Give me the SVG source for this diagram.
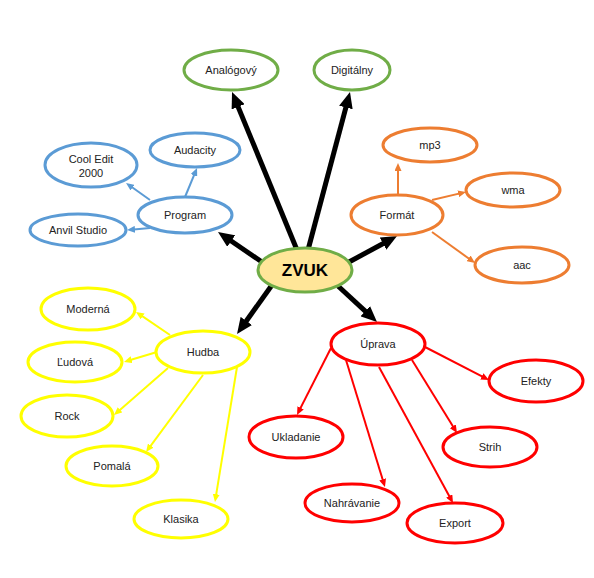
<svg xmlns="http://www.w3.org/2000/svg" width="594" height="578" viewBox="0 0 594 578">
<style>
  .n { fill: #ffffff; stroke-width: 3; }
  .g { stroke: #70AD47; }
  .b { stroke: #5B9BD5; }
  .o { stroke: #ED7D31; }
  .y { stroke: #FFFF00; }
  .r { stroke: #FF0000; }
  text { font-family: "Liberation Sans", Arial, sans-serif; font-size: 11px; fill: #222222; text-anchor: middle; }
  .big { stroke: #000000; stroke-width: 5; fill: none; marker-end: url(#mk); }
  .cb { stroke: #5B9BD5; stroke-width: 2; fill: none; marker-end: url(#mb); }
  .co { stroke: #ED7D31; stroke-width: 2; fill: none; marker-end: url(#mo); }
  .cy { stroke: #FFFF00; stroke-width: 2; fill: none; marker-end: url(#my); }
  .cr { stroke: #FF0000; stroke-width: 2; fill: none; marker-end: url(#mr); }
</style>
<defs>
  <marker id="mk" markerUnits="userSpaceOnUse" markerWidth="16" markerHeight="14" refX="4" refY="7" orient="auto"><path d="M0,0 L16,7 L0,14 z" fill="#000000"/></marker>
  <marker id="mb" markerUnits="userSpaceOnUse" markerWidth="8" markerHeight="7" refX="4" refY="3.5" orient="auto"><path d="M0,0 L8,3.5 L0,7 z" fill="#5B9BD5"/></marker>
  <marker id="mo" markerUnits="userSpaceOnUse" markerWidth="8" markerHeight="7" refX="4" refY="3.5" orient="auto"><path d="M0,0 L8,3.5 L0,7 z" fill="#ED7D31"/></marker>
  <marker id="my" markerUnits="userSpaceOnUse" markerWidth="8" markerHeight="7" refX="4" refY="3.5" orient="auto"><path d="M0,0 L8,3.5 L0,7 z" fill="#FFFF00"/></marker>
  <marker id="mr" markerUnits="userSpaceOnUse" markerWidth="8" markerHeight="7" refX="4" refY="3.5" orient="auto"><path d="M0,0 L8,3.5 L0,7 z" fill="#FF0000"/></marker>
</defs>
<rect width="594" height="578" fill="#ffffff"/>
<g id="connectors">
  <line class="big" x1="297" y1="250" x2="236.6" y2="103.1"/>
  <line class="big" x1="308" y1="250" x2="346.9" y2="103.6"/>
  <line class="big" x1="262" y1="262" x2="227.9" y2="238.8"/>
  <line class="big" x1="349" y1="262" x2="386.5" y2="241.7"/>
  <line class="big" x1="272" y1="285" x2="244" y2="324.2"/>
  <line class="big" x1="338" y1="286" x2="368.2" y2="313.9"/>
  <line class="cb" x1="185" y1="197" x2="195.5" y2="171.7"/>
  <line class="cb" x1="150" y1="200" x2="129.3" y2="185.3"/>
  <line class="cb" x1="150" y1="228" x2="131" y2="229.7"/>
  <line class="co" x1="398" y1="195" x2="398" y2="167"/>
  <line class="co" x1="432" y1="200" x2="462.1" y2="192.9"/>
  <line class="co" x1="432" y1="232" x2="471.8" y2="260.7"/>
  <line class="cy" x1="170" y1="335" x2="139.3" y2="314.2"/>
  <line class="cy" x1="157" y1="352" x2="127.8" y2="360.8"/>
  <line class="cy" x1="168" y1="368" x2="117" y2="412.4"/>
  <line class="cy" x1="203" y1="375" x2="148.4" y2="448.8"/>
  <line class="cy" x1="237" y1="367" x2="215.6" y2="498.1"/>
  <line class="cr" x1="425" y1="347" x2="485.4" y2="378.2"/>
  <line class="cr" x1="331" y1="348" x2="298.8" y2="411.4"/>
  <line class="cr" x1="346" y1="360" x2="383.8" y2="483.2"/>
  <line class="cr" x1="379" y1="367" x2="451.1" y2="499.5"/>
  <line class="cr" x1="412" y1="360" x2="454.9" y2="429.6"/>
</g>
<g id="zvuk"><ellipse cx="305" cy="270" rx="47" ry="22" fill="#FFE699" stroke="#70AD47" stroke-width="3"/><text x="305" y="276" style="font-size:17px;font-weight:bold;fill:#000">ZVUK</text></g>
<g id="analogovy"><ellipse class="n g" cx="231" cy="70" rx="47" ry="20"/><text x="231" y="74">Analógový</text></g>
<g id="digitalny"><ellipse class="n g" cx="352" cy="70" rx="38" ry="20"/><text x="352" y="74">Digitálny</text></g>
<g id="program"><ellipse class="n b" cx="185" cy="215" rx="47" ry="18"/><text x="185" y="219">Program</text></g>
<g id="audacity"><ellipse class="n b" cx="195" cy="150" rx="45" ry="17"/><text x="195" y="154">Audacity</text></g>
<g id="cooledit"><ellipse class="n b" cx="91" cy="165" rx="46" ry="22"/><text x="91" y="163">Cool Edit</text><text x="91" y="177">2000</text></g>
<g id="anvil"><ellipse class="n b" cx="78" cy="230" rx="48" ry="16"/><text x="78" y="234">Anvil Studio</text></g>
<g id="format"><ellipse class="n o" cx="397" cy="215" rx="46" ry="20"/><text x="397" y="219">Formát</text></g>
<g id="mp3"><ellipse class="n o" cx="430" cy="145" rx="47" ry="17"/><text x="430" y="149">mp3</text></g>
<g id="wma"><ellipse class="n o" cx="513" cy="190" rx="47" ry="17"/><text x="513" y="194">wma</text></g>
<g id="aac"><ellipse class="n o" cx="522" cy="265" rx="47" ry="18"/><text x="522" y="269">aac</text></g>
<g id="hudba"><ellipse class="n y" cx="203" cy="352" rx="47" ry="21"/><text x="203" y="356">Hudba</text></g>
<g id="moderna"><ellipse class="n y" cx="88" cy="309" rx="47" ry="21"/><text x="88" y="313">Moderná</text></g>
<g id="ludova"><ellipse class="n y" cx="75" cy="362" rx="47" ry="20"/><text x="75" y="366">Ľudová</text></g>
<g id="rock"><ellipse class="n y" cx="67" cy="416" rx="46" ry="21"/><text x="67" y="420">Rock</text></g>
<g id="pomala"><ellipse class="n y" cx="112" cy="466" rx="46" ry="20"/><text x="112" y="470">Pomalá</text></g>
<g id="klasika"><ellipse class="n y" cx="181" cy="519" rx="47" ry="19"/><text x="181" y="523">Klasika</text></g>
<g id="uprava"><ellipse class="n r" cx="378" cy="344" rx="47" ry="21"/><text x="378" y="348">Úprava</text></g>
<g id="efekty"><ellipse class="n r" cx="536" cy="381" rx="47" ry="21"/><text x="536" y="385">Efekty</text></g>
<g id="ukladanie"><ellipse class="n r" cx="296" cy="437" rx="47" ry="21"/><text x="296" y="441">Ukladanie</text></g>
<g id="strih"><ellipse class="n r" cx="490" cy="447" rx="47" ry="20"/><text x="490" y="451">Strih</text></g>
<g id="nahravanie"><ellipse class="n r" cx="352" cy="503" rx="47" ry="19"/><text x="352" y="507">Nahrávanie</text></g>
<g id="export"><ellipse class="n r" cx="455" cy="523" rx="48" ry="20"/><text x="455" y="527">Export</text></g>
</svg>
